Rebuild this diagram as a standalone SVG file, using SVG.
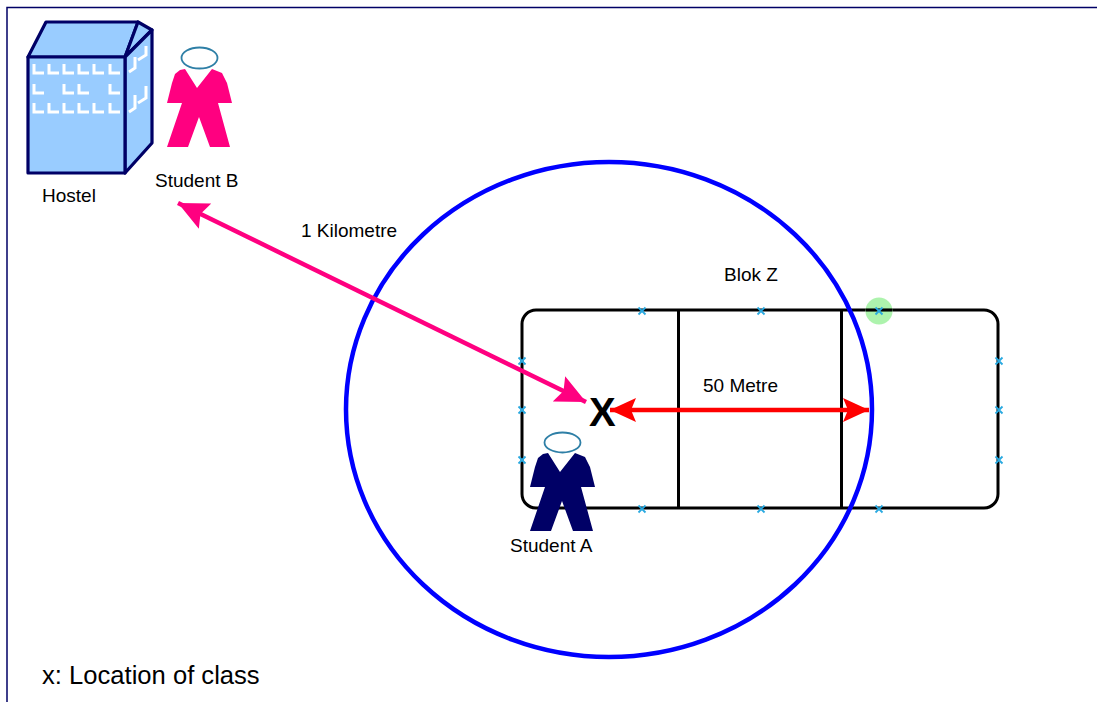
<svg xmlns="http://www.w3.org/2000/svg" width="1097" height="702" viewBox="0 0 1097 702">
<style>
text{font-family:"Liberation Sans",Arial,sans-serif;font-size:19px;fill:#000}
.n{stroke:#000066;stroke-width:3.200;fill:#99ccff;stroke-linejoin:round}
.w{fill:none;stroke:#fff;stroke-width:3}
.x{fill:none;stroke:#29a9e0;stroke-width:1.800}
.b{fill:none;stroke:#000;stroke-width:3}
.h{fill:#fff;stroke:#2e7fa6;stroke-width:1.800}
</style>
<defs>
<path id="body" d="M180 70L185 69L197 88L212 69L222 73L227 83L232 103L218 103L230 147L210 147L199 117L188 147L167 147L182 103L167 103L172 83L175 74Z"/>
<path id="cross" class="x" d="M-3.500-3.500L3.500 3.500M-3.500 3.500L3.500-3.500"/>
<path id="win" class="w" d="M0 0V9H10"/>
<marker id="mp" markerUnits="userSpaceOnUse" markerWidth="32" markerHeight="30" refX="30" refY="15" orient="auto-start-reverse"><path d="M0 1L30 15L0 29L5 15Z" fill="#ff0080"/></marker>
<marker id="mr" markerUnits="userSpaceOnUse" markerWidth="30" markerHeight="28" refX="26" refY="14" orient="auto-start-reverse"><path d="M0 2L26 14L0 26L5 14Z" fill="#ff0000"/></marker>
</defs>
<rect width="1097" height="702" fill="#fff"/>
<path d="M7 702V7.500H1097" fill="none" stroke="#000066" stroke-width="1.500"/>
<g id="blok-z">
<rect x="522" y="310" width="476" height="198" rx="14" class="b"/>
<path class="b" d="M678.500 310V508M841.500 310V508"/>
<circle cx="879" cy="311" r="13.500" fill="#99f099" opacity=".8"/>
<path d="M866 310H892" stroke="#000" stroke-width="3"/>
<use href="#cross" x="642" y="311"/><use href="#cross" x="761" y="311"/><use href="#cross" x="879" y="311"/>
<use href="#cross" x="642" y="509"/><use href="#cross" x="761" y="509"/><use href="#cross" x="879" y="509"/>
<use href="#cross" x="522" y="361"/><use href="#cross" x="522" y="410"/><use href="#cross" x="522" y="460"/>
<use href="#cross" x="999" y="361"/><use href="#cross" x="999" y="410"/><use href="#cross" x="999" y="460"/>
<text x="724" y="281">Blok Z</text>
</g>
<g id="radius-circle"><ellipse cx="609" cy="409.500" rx="263" ry="247.500" fill="none" stroke="#0000ff" stroke-width="4.500"/></g>
<g id="hostel">
<path class="n" d="M28 57L46 22H138L125 57Z"/>
<path class="n" d="M125 57L138 22L152 30Z"/>
<path class="n" d="M125 57L152 30V143L125 173Z"/>
<rect class="n" x="28" y="57" width="97" height="116"/>
<use href="#win" x="34" y="64"/><use href="#win" x="49" y="64"/><use href="#win" x="64" y="64"/><use href="#win" x="79" y="64"/><use href="#win" x="94" y="64"/><use href="#win" x="110" y="64"/>
<use href="#win" x="34" y="84"/><use href="#win" x="64" y="84"/><use href="#win" x="79" y="84"/><use href="#win" x="110" y="84"/>
<use href="#win" x="34" y="103"/><use href="#win" x="49" y="103"/><use href="#win" x="64" y="103"/><use href="#win" x="79" y="103"/><use href="#win" x="94" y="103"/><use href="#win" x="110" y="103"/>
<path class="w" d="M129 72L135 68V57M138 60L146 55V46M129 112L135 108V95M138 103L146 98V86"/>
<text x="42" y="202">Hostel</text>
</g>
<g id="student-b">
<use href="#body" fill="#ff0080"/>
<ellipse class="h" cx="199.500" cy="58" rx="18" ry="10.500"/>
<text x="155" y="187">Student B</text>
</g>
<g id="student-a">
<use href="#body" x="363" y="384" fill="#000066"/>
<ellipse class="h" cx="562.500" cy="442.500" rx="18" ry="10"/>
<text x="510" y="552">Student A</text>
</g>
<g id="connectors">
<path d="M178 203L586 402" fill="none" stroke="#ff0080" stroke-width="4.500" marker-start="url(#mp)" marker-end="url(#mp)"/>
<path d="M610 410H869" fill="none" stroke="#ff0000" stroke-width="4.500" marker-start="url(#mr)" marker-end="url(#mr)"/>
</g>
<g id="location"><text x="589" y="426" style="font-size:40px;font-weight:bold">X</text></g>
<text x="301" y="237">1 Kilometre</text>
<text x="703" y="392">50 Metre</text>
<text x="42" y="684" style="font-size:25.600px">x: Location of class</text>
</svg>
